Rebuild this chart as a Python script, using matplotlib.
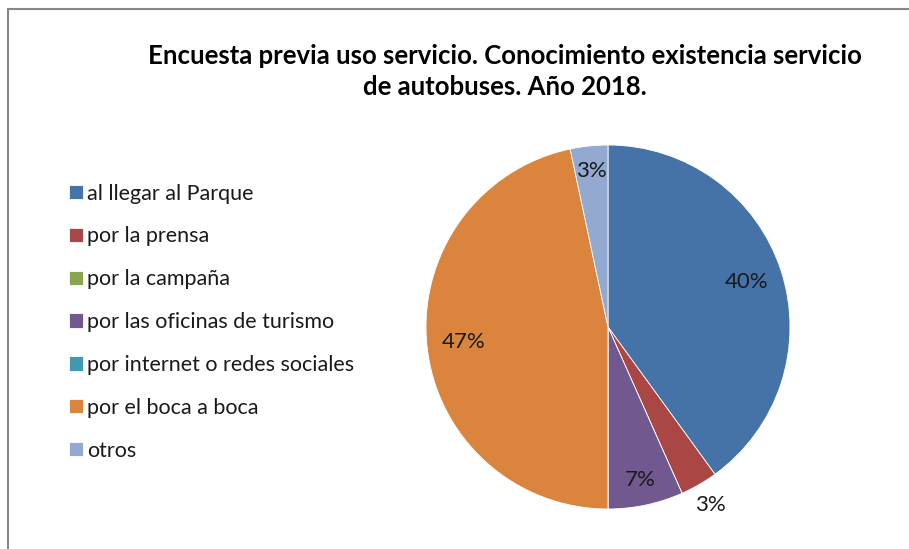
import matplotlib
matplotlib.use('Agg')
import matplotlib.pyplot as plt
from matplotlib.patches import Rectangle
import numpy as np

plt.rcParams['font.family'] = ['Lato', 'DejaVu Sans']

# --- data ---
categories = [
    'al llegar al Parque',
    'por la prensa',
    'por la campaña',
    'por las oficinas de turismo',
    'por internet o redes sociales',
    'por el boca a boca',
    'otros',
]
counts = [12, 1, 0, 2, 0, 14, 1]
colors = ['#4572A7', '#AA4643', '#89A54E', '#71588F', '#4198AF', '#DB843D', '#93A9CF']
label_radius = [0.80, 1.13, 0.8, 0.86, 0.8, 0.80, 0.86]
title = 'Encuesta previa uso servicio. Conocimiento existencia servicio\nde autobuses. Año 2018.'


def main():
    fig = plt.figure(figsize=(9.09, 5.49), dpi=100)

    # chart frame (cut at right/bottom in the original)
    fig.patches.append(Rectangle((8 / 909, -0.1), 1.2, (549 - 9) / 549 + 0.1,
                                 transform=fig.transFigure, fill=False,
                                 edgecolor='#868686', linewidth=1.5))

    fig.text(505 / 909, 1 - 71.5 / 549, title, ha='center', va='center',
             fontsize=18.5, fontweight='bold', color='#000000', linespacing=1.38)

    # pie: centre (608, 327), radius 182 px
    r_px = 182
    ax = fig.add_axes([(608 - r_px) / 909, (549 - 327 - r_px) / 549,
                       2 * r_px / 909, 2 * r_px / 549])
    wedges, _ = ax.pie(counts, colors=colors, startangle=90, counterclock=False,
                       radius=1.0,
                       wedgeprops=dict(edgecolor='white', linewidth=0.6))
    ax.set_xlim(-1, 1)
    ax.set_ylim(-1, 1)
    ax.set_aspect('auto')

    total = sum(counts)
    for w, c, rr in zip(wedges, counts, label_radius):
        if c == 0:
            continue
        ang = np.deg2rad((w.theta1 + w.theta2) / 2)
        ax.text(rr * np.cos(ang), rr * np.sin(ang), f'{100 * c / total:.0f}%',
                ha='center', va='center', fontsize=16, color='#1a1a1a',
                clip_on=False)

    # legend
    fig.legend(wedges, categories, loc='upper left',
               bbox_to_anchor=(60 / 909, 1 - 175 / 549),
               frameon=False, fontsize=15.5, labelcolor='#1a1a1a',
               handlelength=0.65, handleheight=0.65, handletextpad=0.2,
               labelspacing=1.06, borderaxespad=0)

    fig.savefig('out.png', dpi=100)


if __name__ == '__main__':
    main()
